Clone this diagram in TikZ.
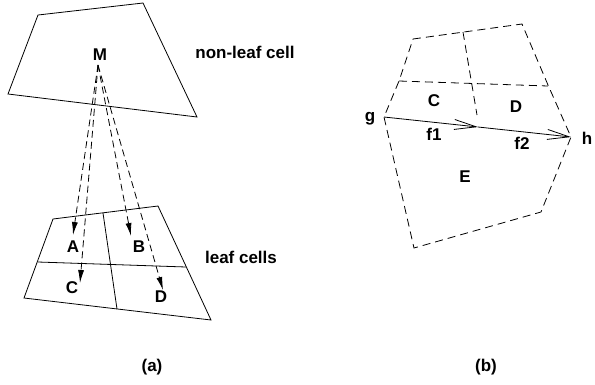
\documentclass[tikz,border=0pt]{standalone}
\usepackage{fontspec}
\setmainfont{Liberation Sans}
\usetikzlibrary{arrows.meta}
\begin{document}
\begin{tikzpicture}[x=1pt,y=-1pt,
  lbl/.style={font=\bfseries\fontsize{17}{19}\selectfont, inner sep=0pt},
  cellline/.style={line width=0.8pt, line join=miter},
  dline/.style={line width=0.8pt, dash pattern=on 8pt off 5pt},
  darrow/.style={line width=0.8pt, dash pattern=on 7pt off 4pt, -{Latex[length=13pt,width=6pt]}},
  barb/.style={line width=0.8pt, -{Straight Barb[length=22pt,width=10pt,line width=0.8pt]}}]
\useasboundingbox (0,0) rectangle (595,384);
% ---------- panel (a) ----------
\draw[cellline] (38,15) -- (143,3) -- (197,117) -- (8,94) -- cycle;
\node[lbl] (M) at (100,55) {M};
\coordinate (m0) at (98,65);
\draw[cellline] (53,219) -- (158,206) -- (211,320) -- (24,298) -- cycle;
\draw[cellline] (103,213) -- (117,309);
\draw[cellline] (38,262) -- (186,267);
\coordinate (tA) at (73,235);
\coordinate (tC) at (80,283);
\coordinate (tB) at (131,236);
\coordinate (tD) at (163,290);
\draw[darrow] (m0) -- (tA);
\draw[darrow] (m0) -- (tC);
\draw[darrow] (m0) -- (tB);
\draw[darrow] (m0) -- (tD);
\node[lbl] (A) at (73,247) {A};
\node[lbl] (B) at (139,247) {B};
\node[lbl] (C) at (72,288) {C};
\node[lbl] (D) at (161,297) {D};
\node[lbl] (nonleaf) at (245,52) {non-leaf cell};
\node[lbl] (leaf) at (241,257) {leaf cells};
\node[lbl] (capa) at (152,367) {(a)};
% ---------- panel (b) ----------
\draw[dline] (413,39) -- (522,24) -- (548,85) -- (571,137) -- (541,212) -- (414,248) -- (384,117) -- (399,81) -- cycle;
\draw[dline] (399,81) -- (548,86);
\draw[dline] (463,32) -- (477,115);
\coordinate (g) at (384,117);
\coordinate (mid) at (478,127);
\coordinate (h) at (571,137);
\draw[barb] (g) -- (mid);
\draw[barb] (mid) -- (h);
\node[lbl] (Cb) at (434,101) {C};
\node[lbl] (Db) at (516,107) {D};
\node[lbl] (Eb) at (465,177) {E};
\node[lbl] (f1) at (434,134) {f1};
\node[lbl] (f2) at (522,143) {f2};
\node[lbl] (gl) at (370,119) {g};
\node[lbl] (hl) at (587,138) {h};
\node[lbl] (capb) at (486,367) {(b)};
\end{tikzpicture}
\end{document}
